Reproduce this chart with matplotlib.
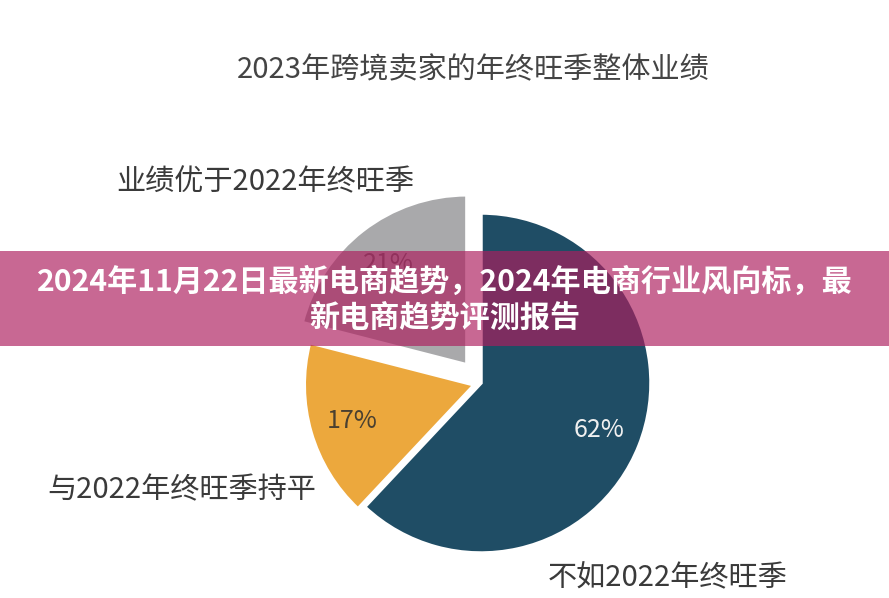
import matplotlib
matplotlib.use("Agg")
import matplotlib.pyplot as plt

plt.rcParams['font.family'] = ['Noto Sans CJK SC', 'DejaVu Sans']

title = "2023年跨境卖家的年终旺季整体业绩"
categories = ["不如2022年终旺季", "与2022年终旺季持平", "业绩优于2022年终旺季"]
values = [62, 17, 21]
colors = ["#1f4d65", "#eca83d", "#a9a9ab"]
pct_colors = ["#f0f0f0", "#4a4030", "#5a5a5a"]
banner_lines = ["2024年11月22日最新电商趋势，2024年电商行业风向标，最", "新电商趋势评测报告"]

W, H = 889, 598
fig = plt.figure(figsize=(W / 100, H / 100), dpi=100)
ax = fig.add_axes([0, 0, 1, 1])

def py(y):
    return H - y

wedges, texts, autotexts = ax.pie(
    values, startangle=90, counterclock=False,
    center=(481, py(383)), radius=170,
    explode=(0, 7, 23), colors=colors,
    autopct=lambda p: f"{p:.0f}%", pctdistance=0.75,
    wedgeprops=dict(edgecolor='white', linewidth=2.5),
    textprops=dict(fontsize=18), frame=True)
for t, c in zip(autotexts, pct_colors):
    t.set_color(c)
ax.set_xlim(0, W)
ax.set_ylim(0, H)
ax.axis('off')

ax.text(473, py(70), title, fontsize=21, color="#444444", ha='center', va='center')
label_pos = [(668, 578), (182, 490), (265, 182)]
for lab, (x, y) in zip(categories, label_pos):
    ax.text(x, py(y), lab, fontsize=21, color="#3a3a3a", ha='center', va='center')

ax.axhspan(py(346), py(251), color="#ad1e5e", alpha=0.67, lw=0, zorder=5)
ax.text(W / 2, py(282), banner_lines[0], fontsize=21.7, fontweight='bold',
        color='white', ha='center', va='center', zorder=6)
ax.text(W / 2, py(318), banner_lines[1], fontsize=21.7, fontweight='bold',
        color='white', ha='center', va='center', zorder=6)

fig.savefig("out.png", dpi=100)
